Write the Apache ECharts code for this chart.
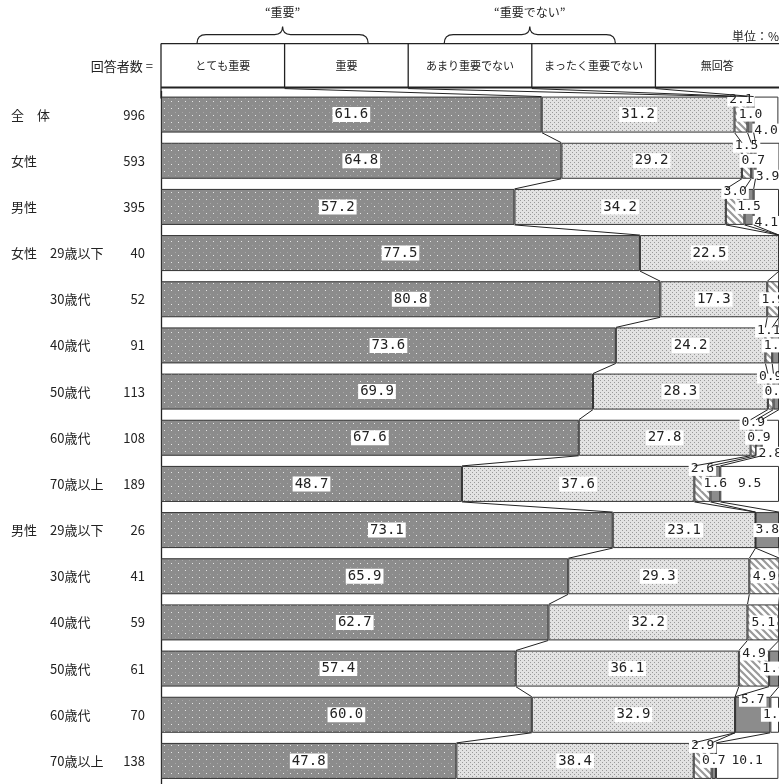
<!DOCTYPE html>
<html><head><meta charset="utf-8">
<script src="https://cdn.jsdelivr.net/npm/echarts@6/dist/echarts.min.js"></script>
<style>html,body{margin:0;padding:0;background:#fff}#c{width:779px;height:784px}</style>
</head><body><div id="c"></div>
<script>
// ---- data ----
const groupLabels = ['全　体','女性','男性','女性','','','','','','男性','','','','',''];
const subLabels = ['','','','29歳以下','30歳代','40歳代','50歳代','60歳代','70歳以上','29歳以下','30歳代','40歳代','50歳代','60歳代','70歳以上'];
const respondents = [996,593,395,40,52,91,113,108,189,26,41,59,61,70,138];
const seriesNames = ['とても重要','重要','あまり重要でない','まったく重要でない','無回答'];
const veryImportant = [61.6,64.8,57.2,77.5,80.8,73.6,69.9,67.6,48.7,73.1,65.9,62.7,57.4,60.0,47.8];
const important     = [31.2,29.2,34.2,22.5,17.3,24.2,28.3,27.8,37.6,23.1,29.3,32.2,36.1,32.9,38.4];
const notVery       = [2.1,1.5,3.0,0,1.9,1.1,0.9,0.9,2.6,0,4.9,5.1,4.9,0,2.9];
const notAtAll      = [1.0,0.7,1.5,0,0,1.1,0.9,0.9,1.6,3.8,0,0,1.6,5.7,0.7];
const noAnswer      = [4.0,3.9,4.1,0,0,0,0,2.8,9.5,0,0,0,0,1.4,10.1];
const groupTitles = ['“重要”','“重要でない”'];
const groupSpans = [[0,2],[2,4]];
const unitText = '単位：%';
const countTitle = '回答者数 =';

// ---- styles ----
const CJK = '"Noto Sans CJK JP", sans-serif';
const MONO = '"DejaVu Sans Mono", monospace';
const BAR = 36;
function mkPattern(w,h,draw){const c=document.createElement('canvas');c.width=w;c.height=h;const g=c.getContext('2d');draw(g,w,h);return {image:c,repeat:'repeat'};}
const patVery = mkPattern(7,7,(g)=>{g.fillStyle='#8c8c8c';g.fillRect(0,0,7,7);g.fillStyle='#e6e6e6';g.fillRect(3,3,1,1);g.fillStyle='#a8a8a8';g.fillRect(0,0,1,1);});
const patImp = mkPattern(4,4,(g)=>{g.fillStyle='#e2e2e2';g.fillRect(0,0,4,4);g.fillStyle='#999999';g.fillRect(0,0,1,1);g.fillRect(2,2,1,1);});
const patHatch = mkPattern(7,7,(g)=>{g.fillStyle='#ffffff';g.fillRect(0,0,7,7);g.strokeStyle='#9a9a9a';g.lineWidth=2.2;g.beginPath();g.moveTo(-1,-1);g.lineTo(8,8);g.moveTo(-1,6);g.lineTo(1,8);g.moveTo(6,-1);g.lineTo(8,1);g.stroke();});
const fills = [patVery, patImp, patHatch, '#8c8c8c', '#ffffff'];

const stacks = [veryImportant, important, notVery, notAtAll, noAnswer];
const nRows = respondents.length;
function cum(i,k){let s=0;for(let j=0;j<k;j++)s+=stacks[j][i];return s;}

// label placement rule for small segments (categories 3-5)
const SMALL = 7;
const offsets = stacks.map(()=>new Array(nRows).fill(0));
for(let i=0;i<nRows;i++){
  const smalls=[];
  for(let k=2;k<5;k++){ if(stacks[k][i]>0 && stacks[k][i]<SMALL) smalls.push(k); }
  if(smalls.length>1){ const pos=[-15,0,16]; smalls.forEach((k,j)=>{offsets[k][i]=pos[j];}); }
}

const barSeries = stacks.map((arr,k)=>({
  name: seriesNames[k], type:'bar', stack:'t', barWidth:BAR,
  itemStyle:{color:fills[k], borderColor:'#333', borderWidth:1},
  data: arr.map((v,i)=>({value:v, label:{show:v>0, offset:[0,offsets[k][i]], fontSize:(k<2?14:13)}})),
  label:{show:true, position:'inside', formatter:p=>p.value.toFixed(1), fontFamily:MONO, fontSize:13, color:'#222', backgroundColor:'#fff', padding:[1,2,0,2]},
  emphasis:{disabled:true}, animation:false
}));

const connectors = {
  type:'custom', silent:true, animation:false, z:3,
  data: respondents.slice(0,nRows-1).map((_,i)=>[0,i]),
  renderItem(params, api){
    const i = api.value(1); const half=BAR/2; const ch=[];
    for(let k=1;k<=4;k++){
      const a=api.coord([cum(i,k),i]); const b=api.coord([cum(i+1,k),i+1]);
      ch.push({type:'line',shape:{x1:a[0],y1:a[1]+half,x2:b[0],y2:b[1]-half},style:{stroke:'#222',lineWidth:1}});
    }
    return {type:'group',children:ch};
  }
};

const header = {
  type:'custom', silent:true, animation:false, z:3,
  data:[[0,0]],
  renderItem(params, api){
    const half=BAR/2; const ch=[];
    const p0=api.coord([0,0]); const barTop=p0[1]-half;
    const hb=barTop-9, ht=hb-44;
    const xs=[0,20,40,60,80,100].map(v=>api.coord([v,0])[0]);
    ch.push({type:'line',shape:{x1:xs[0],y1:ht,x2:xs[5],y2:ht},style:{stroke:'#222',lineWidth:1.3}});
    ch.push({type:'line',shape:{x1:xs[0],y1:hb,x2:xs[5],y2:hb},style:{stroke:'#222',lineWidth:2}});
    ch.push({type:'line',shape:{x1:xs[0],y1:ht,x2:xs[0],y2:barTop+2},style:{stroke:'#222',lineWidth:1.3}});
    for(let k=1;k<5;k++) ch.push({type:'line',shape:{x1:xs[k],y1:ht,x2:xs[k],y2:hb},style:{stroke:'#222',lineWidth:1.3}});
    for(let k=0;k<5;k++) ch.push({type:'text',style:{x:(xs[k]+xs[k+1])/2,y:(ht+hb)/2,text:seriesNames[k],align:'center',verticalAlign:'middle',fontFamily:CJK,fontSize:11,fill:'#222'}});
    // connectors header -> first bar
    for(let k=1;k<=4;k++){
      const b=api.coord([cum(0,k),0]);
      ch.push({type:'line',shape:{x1:xs[k],y1:hb+1,x2:b[0],y2:barTop},style:{stroke:'#222',lineWidth:1}});
    }
    // braces
    groupSpans.forEach((sp,g)=>{
      const x0=xs[sp[0]]+36, x1=xs[sp[1]]-40, mid=(x0+x1)/2;
      const y0=ht, ym=ht-9, yp=ht-17;
      const d=`M${x0},${y0} Q${x0},${ym} ${x0+9},${ym} L${mid-8},${ym} Q${mid},${ym} ${mid},${yp} Q${mid},${ym} ${mid+8},${ym} L${x1-9},${ym} Q${x1},${ym} ${x1},${y0}`;
      ch.push({type:'path',shape:{pathData:d},style:{fill:null,stroke:'#222',lineWidth:1.2}});
      ch.push({type:'text',style:{x:mid,y:12,text:groupTitles[g],align:'center',verticalAlign:'middle',fontFamily:CJK,fontSize:12,fill:'#222'}});
    });
    ch.push({type:'text',style:{x:153,y:(ht+hb)/2,text:countTitle,align:'right',verticalAlign:'middle',fontFamily:CJK,fontSize:13,fill:'#222'}});
    ch.push({type:'text',style:{x:779,y:ht-7,text:unitText,align:'right',verticalAlign:'middle',fontFamily:CJK,fontSize:12,fill:'#222'}});
    return {type:'group',children:ch};
  }
};

const chart = echarts.init(document.getElementById('c'), null, {renderer:'canvas'});
chart.setOption({
  animation:false,
  grid:{left:161, top:91.5, width:621, height:696, containLabel:false},
  xAxis:{type:'value', min:0, max:100, show:false},
  yAxis:{type:'category', inverse:true, data:respondents.map((_,i)=>String(i)),
    axisTick:{show:false}, axisLine:{show:true, lineStyle:{color:'#222', width:1.3}},
    axisLabel:{margin:16, formatter:(v,i)=>`{a|${groupLabels[i]||' '}}{b|${subLabels[i]||' '}}{c|${respondents[i]}}`,
      rich:{a:{width:39,align:'left',fontFamily:CJK,fontSize:13,color:'#222'},b:{width:60,align:'left',fontFamily:CJK,fontSize:13,color:'#222'},c:{width:35,align:'right',fontFamily:CJK,fontSize:13,color:'#222'}}}
  },
  series:[...barSeries, connectors, header]
});
</script></body></html>
